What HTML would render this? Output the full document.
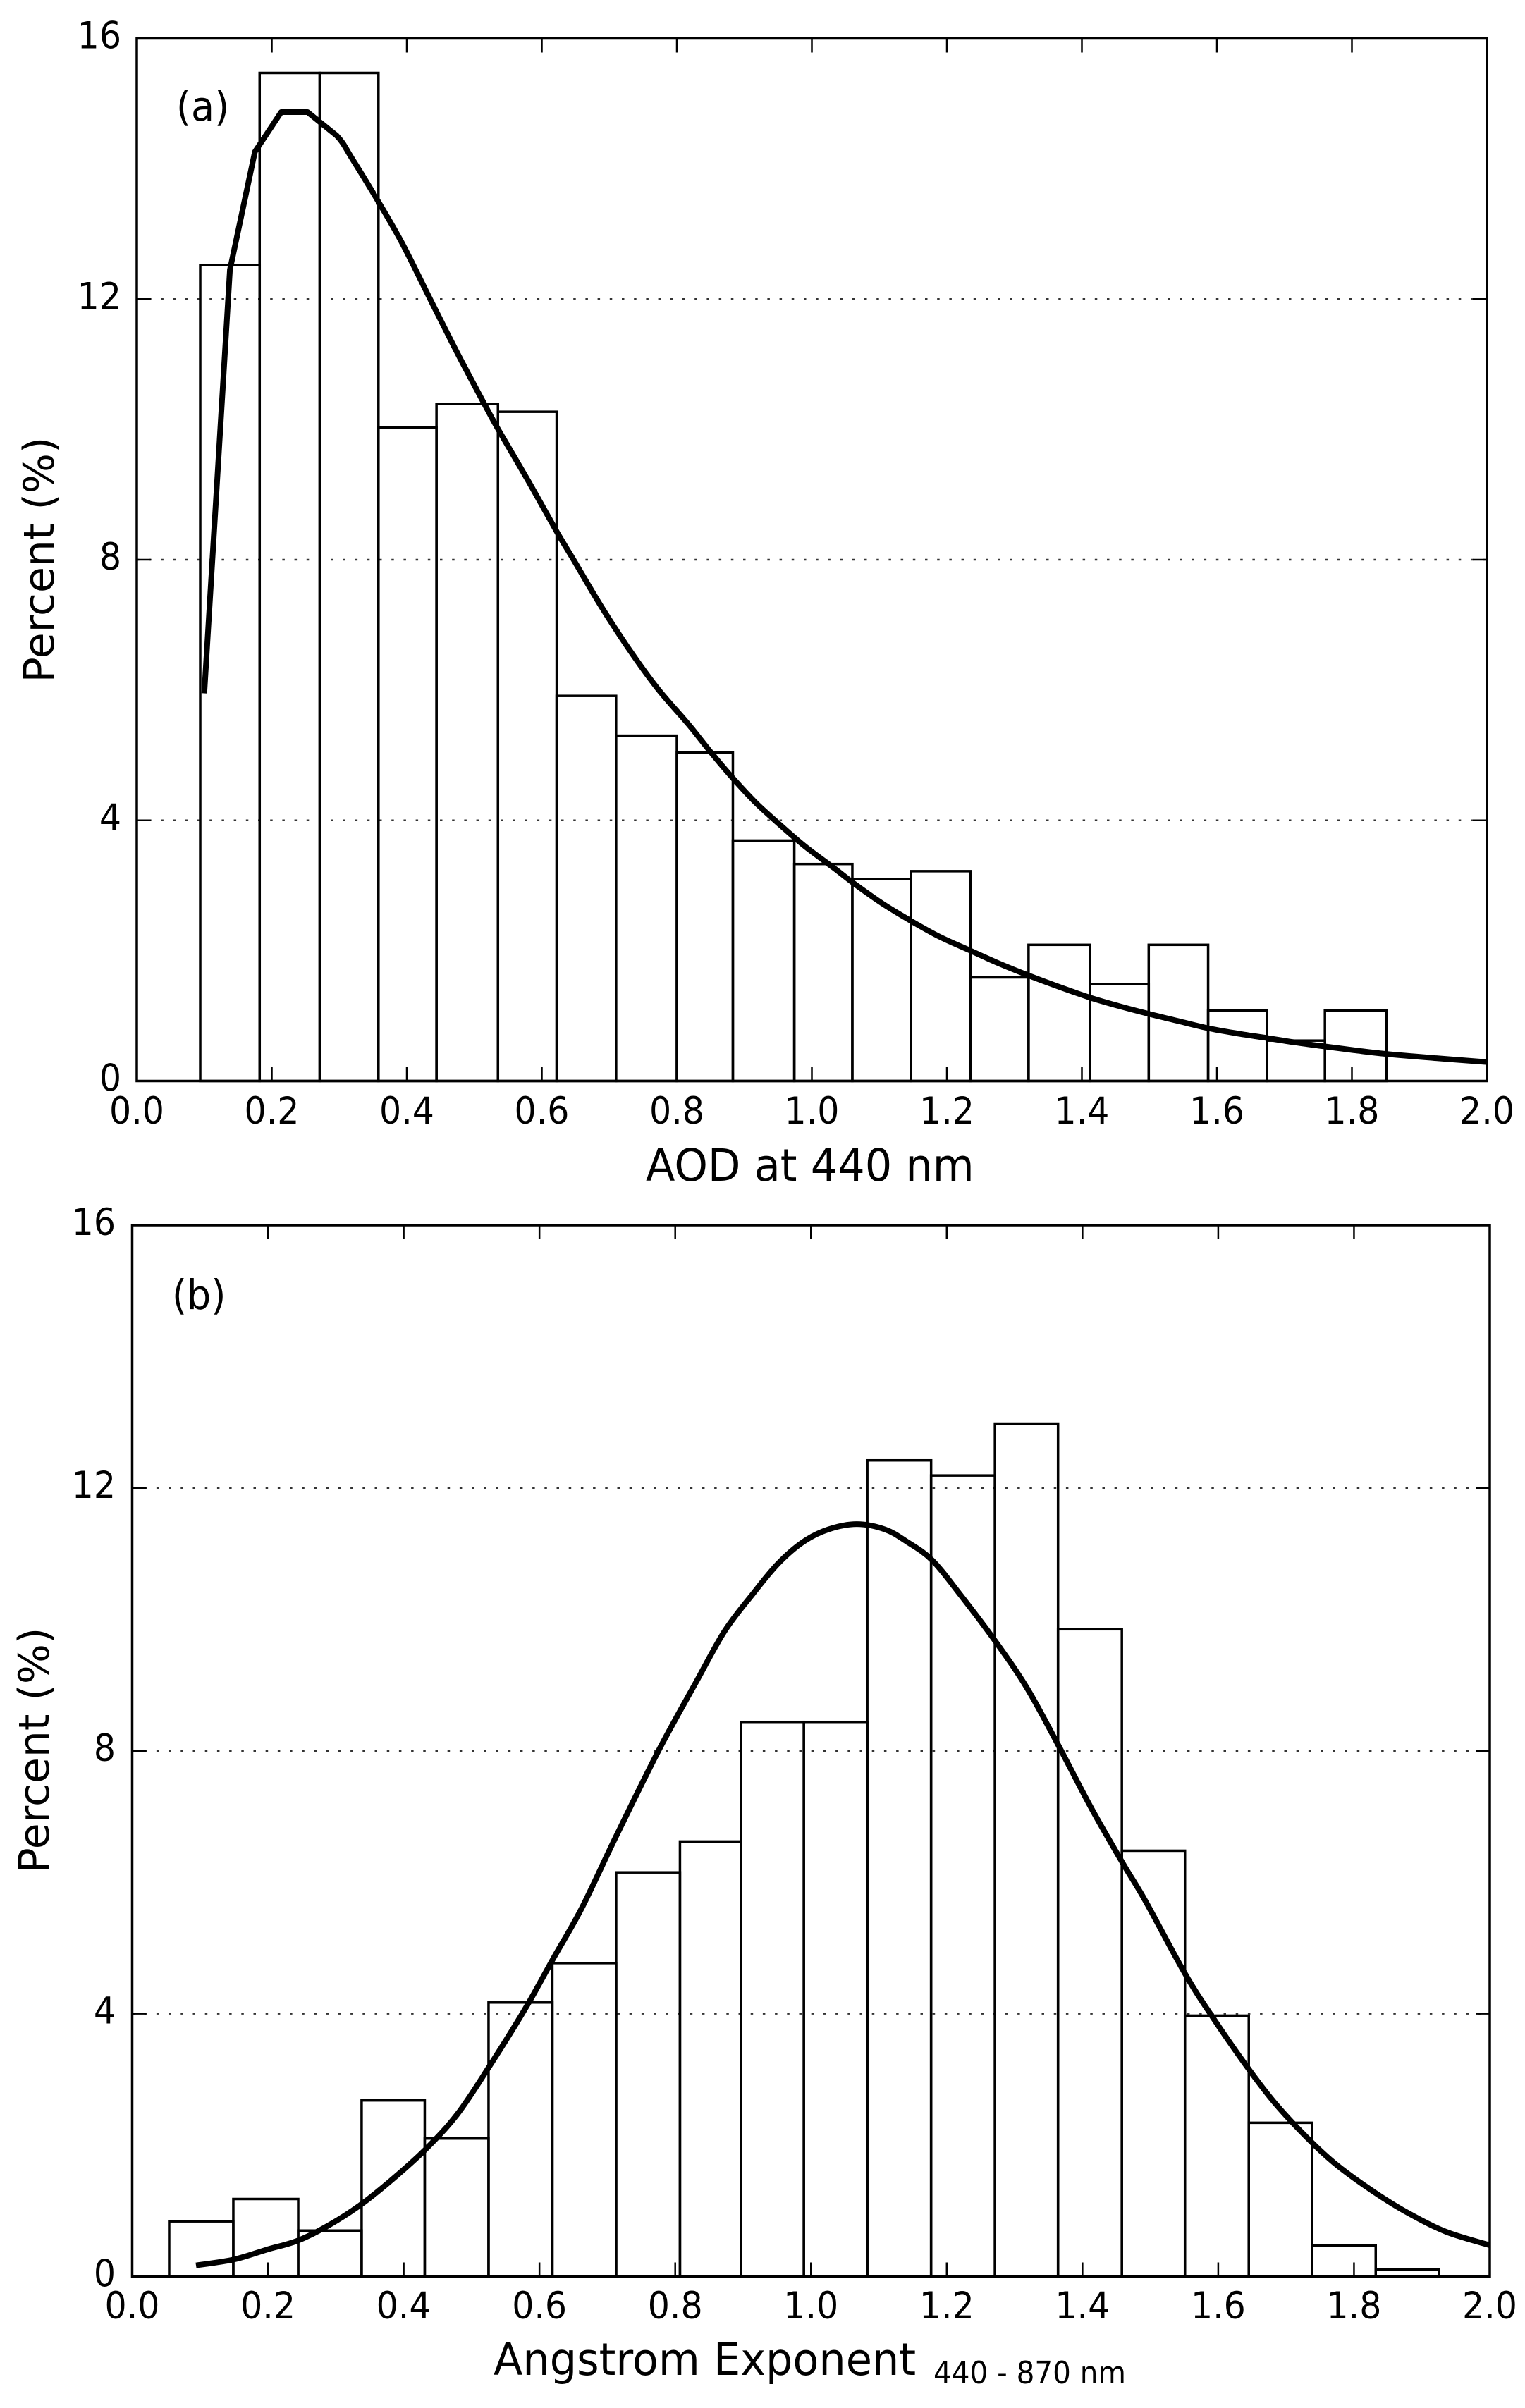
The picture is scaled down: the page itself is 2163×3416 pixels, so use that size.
<!DOCTYPE html>
<html lang="en">
<head>
<meta charset="utf-8">
<title>AOD and Angstrom Exponent histograms</title>
<style>
  html, body { margin: 0; padding: 0; background: #fff; }
  svg { display: block; font-family: "DejaVu Sans", "Liberation Sans", sans-serif; fill: #000; }
</style>
</head>
<body>
<svg id="figure" xmlns="http://www.w3.org/2000/svg" width="2163" height="3416" viewBox="0 0 2163 3416"></svg>
<script>
const xTickLabels = ["0.0","0.2","0.4","0.6","0.8","1.0","1.2","1.4","1.6","1.8","2.0"];
const yTickLabels = ["0","4","8","12","16"];

const aodBinEdges = [0.094,0.182,0.271,0.358,0.444,0.535,0.622,0.71,0.80,0.883,0.974,1.06,1.147,1.235,1.321,1.412,1.499,1.587,1.674,1.76,1.851];
const aodPercent = [12.52,15.47,15.47,10.03,10.39,10.27,5.91,5.30,5.04,3.69,3.33,3.10,3.22,1.59,2.09,1.49,2.09,1.08,0.62,1.08];
const aodFitX = [0.10,0.138,0.175,0.214,0.253,0.296,0.3196,0.3593,0.394,0.436,0.476,0.5154,0.536,0.5807,0.6227,0.647,0.687,0.729,0.771,0.8175,0.85,0.8828,0.917,0.953,0.99,1.0325,1.0625,1.105,1.148,1.19,1.235,1.278,1.321,1.365,1.412,1.455,1.499,1.543,1.587,1.63,1.674,1.717,1.76,1.805,1.851,1.925,2.0];
const aodFitY = [5.95,12.45,14.26,14.87,14.87,14.51,14.145,13.47,12.84,11.97,11.15,10.38,9.99,9.195,8.42,8.0,7.3,6.63,6.03,5.47,5.05,4.65,4.27,3.93,3.6,3.27,3.03,2.72,2.45,2.21,2.0,1.8,1.62,1.45,1.28,1.15,1.03,0.92,0.81,0.73,0.66,0.59,0.53,0.47,0.415,0.35,0.29];

const angBinEdges = [0.0545,0.149,0.2446,0.338,0.431,0.525,0.619,0.713,0.807,0.897,0.9895,1.083,1.177,1.271,1.364,1.458,1.551,1.645,1.738,1.832,1.925];
const angPercent = [0.84,1.18,0.70,2.68,2.10,4.17,4.77,6.15,6.62,8.44,8.44,12.42,12.19,12.98,9.85,6.48,3.97,2.34,0.47,0.11];
const angFitX = [0.094,0.15,0.1985,0.2448,0.2912,0.3376,0.384,0.4326,0.479,0.5254,0.5787,0.6204,0.662,0.713,0.7753,0.831,0.8727,0.9145,0.9516,0.9886,1.0257,1.0673,1.109,1.1417,1.1787,1.2205,1.2715,1.318,1.3637,1.4124,1.4588,1.4925,1.5505,1.5915,1.6454,1.686,1.736,1.7767,1.8305,1.88,1.936,2.0];
const angFitY = [0.17,0.26,0.41,0.55,0.79,1.10,1.485,1.94,2.47,3.185,4.07,4.84,5.6,6.7,8.0,9.05,9.82,10.39,10.85,11.18,11.37,11.45,11.37,11.18,10.9,10.37,9.67,8.96,8.1,7.14,6.30,5.72,4.62,3.95,3.15,2.61,2.06,1.68,1.28,0.965,0.68,0.477];

const NS = "http://www.w3.org/2000/svg";
const fig = document.getElementById("figure");

function mk(tag, parent) {
  const el = document.createElementNS(NS, tag);
  (parent || fig).appendChild(el);
  return el;
}

function setLine(el, x1, y1, x2, y2, width) {
  el.setAttribute("x1", x1);
  el.setAttribute("y1", y1);
  el.setAttribute("x2", x2);
  el.setAttribute("y2", y2);
  el.setAttribute("stroke", "#000");
  el.setAttribute("stroke-width", width);
}

// Straight segments up to smoothFrom, Catmull-Rom through the read points after it.
function curvePath(pts, smoothFrom) {
  let d = "M" + pts[0][0] + " " + pts[0][1];
  for (let i = 1; i < pts.length; i++) {
    if (i <= smoothFrom) {
      d += " L" + pts[i][0] + " " + pts[i][1];
    } else {
      const p0 = pts[i - 2] || pts[i - 1];
      const p1 = pts[i - 1];
      const p2 = pts[i];
      const p3 = pts[i + 1] || p2;
      const c1x = p1[0] + (p2[0] - p0[0]) / 6;
      const c1y = p1[1] + (p2[1] - p0[1]) / 6;
      const c2x = p2[0] - (p3[0] - p1[0]) / 6;
      const c2y = p2[1] - (p3[1] - p1[1]) / 6;
      d += " C" + c1x + " " + c1y + " " + c2x + " " + c2y + " " + p2[0] + " " + p2[1];
    }
  }
  return d;
}

function drawPanel(p) {
  const sx = v => p.left + (v / 2) * (p.right - p.left);
  const sy = v => p.bottom - (v / 16) * (p.bottom - p.top);

  const g = mk("g");
  
  

  // grid lines
  [4, 8, 12].forEach(v => {
    const l = mk("line", g);
    setLine(l, p.left, sy(v), p.right, sy(v), 2.5);
    l.setAttribute("stroke-dasharray", "3.5 13.7");
    l.setAttribute("stroke", "#333");
    
    
  });

  // histogram bars
  p.values.forEach((v, i) => {
    const r = mk("rect", g);
    r.setAttribute("x", sx(p.edges[i]));
    r.setAttribute("y", sy(v));
    r.setAttribute("width", sx(p.edges[i + 1]) - sx(p.edges[i]));
    r.setAttribute("height", sy(0) - sy(v));
    r.setAttribute("fill", "none");
    r.setAttribute("stroke", "#000");
    r.setAttribute("stroke-width", 3.5);
    
    
  });

  // fitted curve
  const c = mk("path", g);
  c.setAttribute("d", curvePath(p.fitX.map((x, i) => [sx(x), sy(p.fitY[i])]), p.smoothFrom));
  c.setAttribute("fill", "none");
  c.setAttribute("stroke", "#000");
  c.setAttribute("stroke-width", 8);
  c.setAttribute("stroke-linejoin", "round");
  
  

  // axes frame
  const f = mk("rect", g);
  f.setAttribute("x", p.left);
  f.setAttribute("y", p.top);
  f.setAttribute("width", p.right - p.left);
  f.setAttribute("height", p.bottom - p.top);
  f.setAttribute("fill", "none");
  f.setAttribute("stroke", "#000");
  f.setAttribute("stroke-width", 3.5);
  
  

  // x ticks and labels
  xTickLabels.forEach(lbl => {
    const v = parseFloat(lbl);
    const bt = mk("line", g);
    setLine(bt, sx(v), p.bottom, sx(v), p.bottom - 20, 2.5);
    
    
    const tt = mk("line", g);
    setLine(tt, sx(v), p.top, sx(v), p.top + 20, 2.5);
    
    
    const t = mk("text", g);
    t.textContent = lbl;
    t.setAttribute("transform", "translate(" + sx(v) + "," + p.xTickBase + ") scale(1,1.08)");
    t.setAttribute("text-anchor", "middle");
    t.setAttribute("font-size", 49);
    
    
  });

  // y ticks and labels
  yTickLabels.forEach(lbl => {
    const v = parseFloat(lbl);
    const lt = mk("line", g);
    setLine(lt, p.left, sy(v), p.left + 20, sy(v), 2.5);
    
    
    const rt = mk("line", g);
    setLine(rt, p.right, sy(v), p.right - 20, sy(v), 2.5);
    
    
    const t = mk("text", g);
    t.textContent = lbl;
    t.setAttribute("transform", "translate(" + p.yTickRight + "," + (sy(v) + 14) + ") scale(1,1.08)");
    t.setAttribute("text-anchor", "end");
    t.setAttribute("font-size", 49);
    
    
  });

  // y axis title
  const yt = mk("text", g);
  yt.textContent = "Percent (%)";
  yt.setAttribute("transform", "translate(" + p.yTitleX + "," + p.yTitleY + ") rotate(-90)");
  yt.setAttribute("text-anchor", "middle");
  yt.setAttribute("font-size", 60);
  
  

  // panel letter
  const pl = mk("text", g);
  pl.textContent = p.letter;
  pl.setAttribute("transform", "translate(" + p.letterX + "," + p.letterY + ") scale(1,1.08)");
  pl.setAttribute("font-size", 54);
  
  
}

drawPanel({
  name: "panel-a-aod", letter: "(a)", letterX: 250, letterY: 171,
  left: 194, right: 2109, top: 54.5, bottom: 1533.5,
  edges: aodBinEdges, values: aodPercent, fitX: aodFitX, fitY: aodFitY, smoothFrom: 5,
  xTickBase: 1594, yTickRight: 172, yTitleX: 76, yTitleY: 794
});

drawPanel({
  name: "panel-b-angstrom", letter: "(b)", letterX: 244, letterY: 1857,
  left: 187.5, right: 2113, top: 1738, bottom: 3229.5,
  edges: angBinEdges, values: angPercent, fitX: angFitX, fitY: angFitY, smoothFrom: 0,
  xTickBase: 3289, yTickRight: 164, yTitleX: 69, yTitleY: 2483
});

const xa = mk("text");
xa.textContent = "AOD at 440 nm";
xa.setAttribute("transform", "translate(916,1675) scale(1,1.05)");
xa.setAttribute("font-size", 60.5);



const xb = mk("text");
xb.textContent = "Angstrom Exponent";
xb.setAttribute("transform", "translate(700,3369) scale(1,1.05)");
xb.setAttribute("font-size", 60.5);



const xs = mk("text");
xs.textContent = "440 - 870 nm";
xs.setAttribute("transform", "translate(1324,3381) scale(1,1.08)");
xs.setAttribute("font-size", 40.5);


</script>
</body>
</html>
